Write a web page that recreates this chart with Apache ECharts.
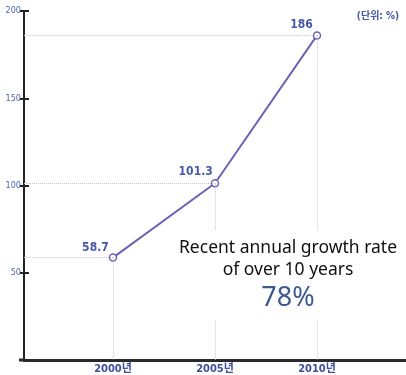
<!DOCTYPE html>
<html><head><meta charset="utf-8">
<script src="https://cdn.jsdelivr.net/npm/echarts@6/dist/echarts.min.js"></script>
<style>html,body{margin:0;padding:0;background:#fff}#c{width:406px;height:375px}</style>
</head><body><div id="c"></div>
<script>
const years = [2000, 2005, 2010];
const yearSuffix = '년';
const values = [58.7, 101.3, 186];
const yTicks = [0, 50, 100, 150, 200];
const unitText = '(단위: %)';
const noteLines = ['Recent annual growth rate', 'of over 10 years'];
const noteValue = '78%';

const X_MIN = 1995.637, X_MAX = 2014.363;
const labelFont = "'DejaVu Sans Condensed','Noto Sans CJK KR',sans-serif";
const labelOffsets = [[2, -10], [4, -11], [2, -11]];

const chart = echarts.init(document.getElementById('c'));
const dropLines = [];
years.forEach((y, i) => {
  dropLines.push([{ coord: [X_MIN, values[i]] }, { coord: [y, values[i]] }]);
  dropLines.push([{ coord: [y, values[i]] }, { coord: [y, 0] }]);
});
chart.setOption({
  animation: false,
  grid: { left: 24, right: 0, top: 11, bottom: 15 },
  xAxis: {
    type: 'value', min: X_MIN, max: X_MAX,
    axisLine: { show: true, lineStyle: { color: '#2a2a2a', width: 3 } },
    axisTick: { show: false },
    splitLine: { show: false },
    axisLabel: {
      customValues: years,
      formatter: v => v + yearSuffix,
      color: '#3d4f9c', fontSize: 11, fontWeight: 'bold', fontFamily: labelFont, margin: 4
    }
  },
  yAxis: [{
    type: 'value', min: yTicks[0], max: yTicks[yTicks.length - 1], interval: 50,
    axisLine: { show: true, lineStyle: { color: '#222', width: 2 } },
    axisTick: { show: true, length: 4, lineStyle: { color: '#222', width: 2 } },
    splitLine: { show: false },
    axisLabel: { showMinLabel: false, color: '#4d66ad', fontSize: 9, fontFamily: labelFont, margin: 3 }
  }, {
    type: 'value', min: yTicks[0], max: yTicks[yTicks.length - 1], interval: 50, position: 'left',
    axisLine: { show: false },
    axisTick: { show: true, inside: true, length: 5, lineStyle: { color: '#222', width: 2 } },
    splitLine: { show: false },
    axisLabel: { show: false }
  }],
  series: [{
    type: 'line', data: [], z: 1, silent: true,
    markLine: {
      symbol: 'none', silent: true, animation: false,
      label: { show: false },
      lineStyle: { color: '#c6c6e0', type: 'dotted', width: 1 },
      data: dropLines
    }
  }, {
    type: 'line', z: 3,
    data: years.map((y, i) => ({
      value: [y, values[i]],
      label: { offset: labelOffsets[i] }
    })),
    lineStyle: { color: '#6b63b5', width: 2 },
    itemStyle: { color: '#fff', borderColor: '#6b63b5', borderWidth: 1.5 },
    symbol: 'circle', symbolSize: 7, showAllSymbol: true,
    label: {
      show: true, position: 'left', distance: 2,
      formatter: p => p.value[1],
      color: '#4858a8', fontSize: 12, fontWeight: 'bold', fontFamily: labelFont
    }
  }],
  graphic: [
    { type: 'line', z: 5, shape: { x1: 19, y1: 360, x2: 25, y2: 360 }, style: { stroke: '#2a2a2a', lineWidth: 3 } },
    { type: 'rect', left: 175, top: 230, z: 10, shape: { width: 228, height: 90 }, style: { fill: '#fff' } },
    { type: 'text', x: 288, y: 248, z: 11, style: { text: noteLines[0], fill: '#111', font: "17.5px 'Noto Sans', sans-serif", align: 'center', verticalAlign: 'middle' } },
    { type: 'text', x: 288, y: 270, z: 11, style: { text: noteLines[1], fill: '#111', font: "17.5px 'Noto Sans', sans-serif", align: 'center', verticalAlign: 'middle' } },
    { type: 'text', x: 288, y: 298, z: 11, style: { text: noteValue, fill: '#3d5a8f', font: "27px 'Noto Sans', sans-serif", align: 'center', verticalAlign: 'middle' } },
    { type: 'text', x: 378, y: 16, z: 11, style: { text: unitText, fill: '#4858a8', font: "bold 10px 'DejaVu Sans Condensed','Noto Sans CJK KR',sans-serif", align: 'center', verticalAlign: 'middle' } }
  ]
});
</script></body></html>
